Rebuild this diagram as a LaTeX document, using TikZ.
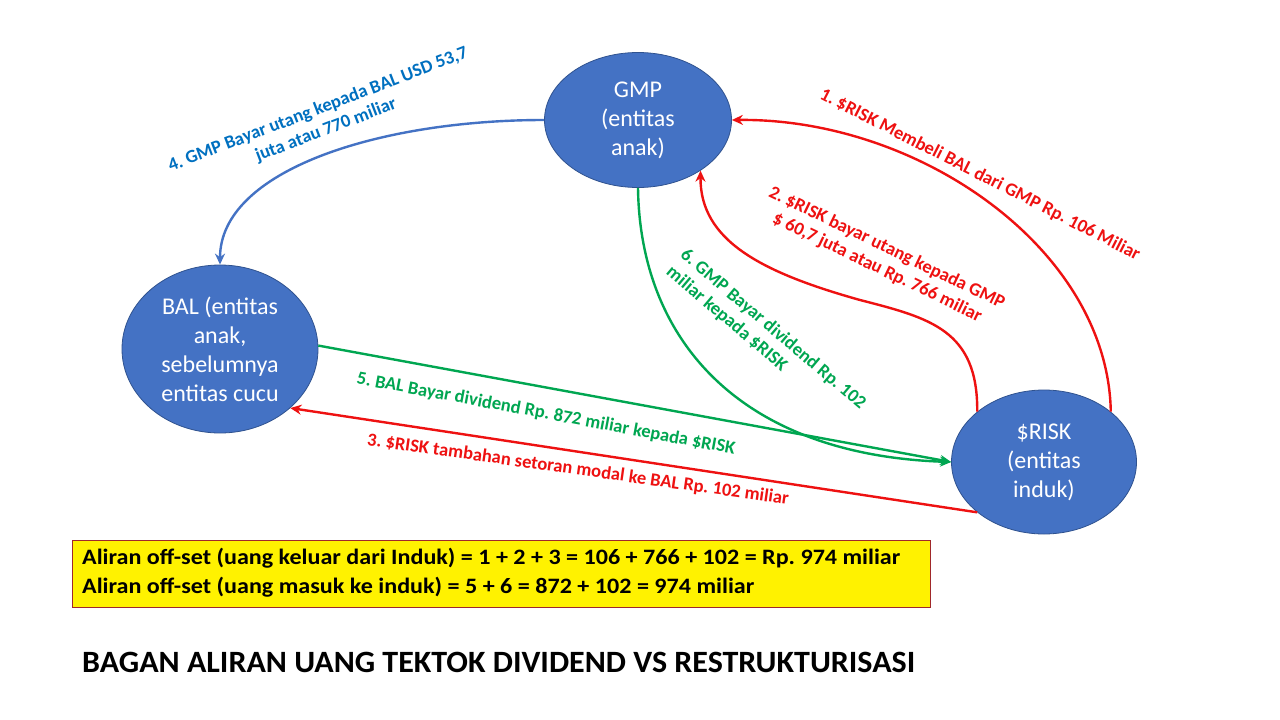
\documentclass[tikz,border=0pt]{standalone}
\usepackage{fontspec}
\setmainfont{Carlito}
\usetikzlibrary{shapes.geometric,arrows.meta}
\definecolor{nodeblue}{HTML}{4472C4}
\definecolor{nodeborder}{HTML}{2F528F}
\definecolor{ored}{HTML}{EE1111}
\definecolor{ogreen}{HTML}{00A651}
\definecolor{oblue}{HTML}{0070C0}
\definecolor{lineblue}{HTML}{4472C4}
\definecolor{boxborder}{HTML}{A0282B}
\frenchspacing
\begin{document}
\begin{tikzpicture}[x=1pt,y=-1pt,
  entity/.style={ellipse,fill=nodeblue,draw=nodeborder,line width=0.8pt,inner sep=0pt,text=white,align=center,font=\fontsize{24}{29}\selectfont},
  flow/.style={line width=2.4pt,-{Stealth[length=11pt,width=10pt]}},
  lbl/.style={font=\bfseries\fontsize{18.5}{22}\selectfont,inner sep=0pt,align=center},
  sumtext/.style={font=\bfseries\fontsize{22}{26}\selectfont,inner sep=0pt,anchor=west},
]
\fill[white] (0,0) rectangle (1280,720);
\useasboundingbox (0,0) rectangle (1280,720);

% entities
\node[entity,minimum width=187pt,minimum height=135pt] (gmp) at (638,120) {GMP\\(entitas\\anak)};
\node[entity,minimum width=196pt,minimum height=168pt] (bal) at (220,349) {BAL (entitas\\anak,\\sebelumnya\\entitas cucu};
\node[entity,minimum width=185pt,minimum height=144pt] (risk) at (1044,462) {\$RISK\\(entitas\\induk)};

% flows
\draw[flow,ored] (risk.37) .. controls (1108,250) and (920,118) .. (gmp.0);
\draw[flow,ored] (risk.143) .. controls (978,330) and (930,318) .. (860,300) .. controls (760,272) and (700,240) .. (gmp.-39);
\draw[flow,ored] (risk.217) -- (bal.-40);
\draw[flow,lineblue] (gmp.180) .. controls (380,120) and (220,170) .. (bal.north);
\draw[flow,ogreen] (bal.2) -- (risk.west);
\draw[flow,ogreen] (gmp.south) .. controls (640,340) and (740,455) .. (risk.west);

% labels
\node[lbl,text=ored,rotate=-27] (l1) at (980,175) {1. \$RISK Membeli BAL dari GMP Rp. 106 Miliar};
\node[lbl,text=ored,rotate=-25.7] (l2) at (882,258) {2. \$RISK bayar utang kepada GMP\\\$ 60,7 juta atau Rp. 766 miliar};
\node[lbl,text=ored,rotate=-8] (l3) at (578,470) {3. \$RISK tambahan setoran modal ke BAL Rp. 102 miliar};
\node[lbl,text=oblue,rotate=21] (l4) at (322,120) {4. GMP Bayar utang kepada BAL USD 53,7\\juta atau 770 miliar};
\node[lbl,text=ogreen,rotate=-10.6] (l5) at (546,414) {5. BAL Bayar dividend Rp. 872 miliar kepada \$RISK};
\node[lbl,text=ogreen,rotate=-40.3,align=left] (l6) at (766,338) {6. GMP Bayar dividend Rp. 102\\miliar kepada \$RISK};

% summary box
\node[draw=boxborder,line width=0.8pt,fill=yellow,minimum width=858pt,minimum height=67pt,anchor=north west,inner sep=0pt] (sumbox) at (72,540) {};
\node[sumtext] (s1) at (82,558) {\resizebox{818pt}{\height}{Aliran off-set (uang keluar dari Induk) = 1 + 2 + 3 = 106 + 766 + 102 = Rp. 974 miliar}};
\node[sumtext] (s2) at (82,587) {\resizebox{672pt}{\height}{Aliran off-set (uang masuk ke induk) = 5 + 6 = 872 + 102 = 974 miliar}};

% title
\node[inner sep=0pt,anchor=west,font=\bfseries\fontsize{31}{36}\selectfont] (title) at (82,662) {\resizebox{833pt}{\height}{BAGAN ALIRAN UANG TEKTOK DIVIDEND VS RESTRUKTURISASI}};
\end{tikzpicture}
\end{document}
